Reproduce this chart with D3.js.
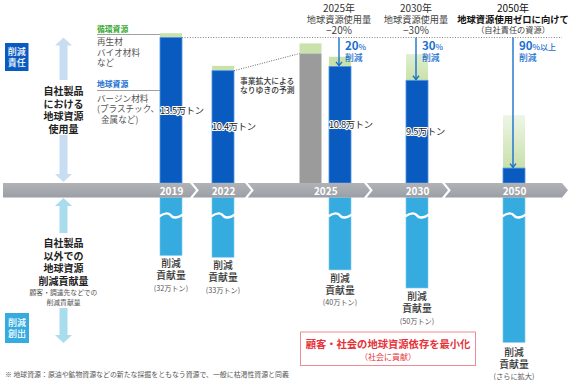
<!DOCTYPE html>
<html><head><meta charset="utf-8">
<script src="https://cdn.jsdelivr.net/npm/d3@7"></script>
<style>
html,body{margin:0;padding:0;background:#fff;}
svg{display:block;font-family:"Noto Sans CJK JP","Noto Sans",sans-serif;}
</style></head>
<body><svg id="c" width="574" height="381"></svg>
<script>
// ---------- data ----------
const years = ["2019","2022","2025","2030","2050"];
const virginUse = [13.5, 10.4, 10.8, 9.5, 1.3];          // 地球資源 (万トン)
const circularUse = [0.4, 0.45, 0.9, 2.45, 4.95];         // 循環資源 / 削減分
const useLabels = ["13.5万トン","10.4万トン","10.8万トン","9.5万トン",""];
const forecastYears = ["2025"];
const forecastVirgin = [12.0];
const forecastCircular = [0.95];
const contribution = [32, 33, 40, 50, 80];                // 削減貢献量 (万トン)
const contributionLabels = ["(32万トン)","(33万トン)","(40万トン)","(50万トン)","(さらに拡大)"];
const targetYears = ["2025","2030","2050"];
const targetHead1 = ["2025年","2030年","2050年"];
const targetHead2 = ["地球資源使用量","地球資源使用量","地球資源使用ゼロに向けて"];
const targetHead3 = ["−20%","−30%","（自社責任の資源）"];
const targetPct = ["20","30","90"];
const targetSuffix = ["%","%","%以上"];

// ---------- scales ----------
const svg = d3.select("#c");
const x = d3.scaleOrdinal().domain(years).range([171,223,340,417,514]);
const forecastOffset = -29.5;
const bw = 22;
const yU = d3.scaleLinear().domain([0,13.5]).range([182,37.5]);
const yL = d3.scaleLinear().domain([0,50]).range([197.5,288]);

const BLUE="#0a5bbf", LBLUE="#35abe0", GREEN="#c9e2ab", GRAY="#9b9b9b";
const defs = svg.append("defs");
const g1 = defs.append("linearGradient").attr("id","g2050").attr("x1",0).attr("y1",0).attr("x2",0).attr("y2",1);
g1.append("stop").attr("offset","0%").attr("stop-color","#eef6e6");
g1.append("stop").attr("offset","100%").attr("stop-color","#c8e0ab");
const g2 = defs.append("linearGradient").attr("id","g2030").attr("x1",0).attr("y1",0).attr("x2",0).attr("y2",1);
g2.append("stop").attr("offset","0%").attr("stop-color","#e0eed1");
g2.append("stop").attr("offset","100%").attr("stop-color","#c9e2ab");
const tl = defs.append("linearGradient").attr("id","tl").attr("x1",0).attr("y1",0).attr("x2",0).attr("y2",1);
tl.append("stop").attr("offset","0%").attr("stop-color","#b1b3b8");
tl.append("stop").attr("offset","100%").attr("stop-color","#9b9ea4");
const mk = defs.append("marker").attr("id","ah").attr("viewBox","0 0 10 10").attr("refX",5).attr("refY",9)
  .attr("markerWidth",7).attr("markerHeight",7).attr("orient","auto-start-reverse").attr("markerUnits","userSpaceOnUse");

// ---------- upper bars ----------
const data = years.map((y,i)=>({y,i,v:virginUse[i],c:circularUse[i]}));
const up = svg.append("g");
data.forEach(d=>{
  const x0 = x(d.y)-bw/2;
  const fill = d.y==="2050" ? "url(#g2050)" : d.y==="2030" ? "url(#g2030)" : GREEN;
  up.append("rect").attr("x",x0).attr("width",bw).attr("y",yU(d.v+d.c)).attr("height",yU(d.v)-yU(d.v+d.c)).attr("fill",fill);
  up.append("rect").attr("x",x0).attr("width",bw).attr("y",yU(d.v)).attr("height",yU(0)-yU(d.v)+1)
    .attr("fill",BLUE).attr("stroke","#4f93de").attr("stroke-width",0.8);
});
forecastYears.forEach((y,i)=>{
  const x0 = x(y)+forecastOffset-bw/2;
  up.append("rect").attr("x",x0).attr("width",bw).attr("y",yU(forecastVirgin[i]+forecastCircular[i]))
    .attr("height",yU(forecastVirgin[i])-yU(forecastVirgin[i]+forecastCircular[i])).attr("fill",GREEN);
  up.append("rect").attr("x",x0).attr("width",bw).attr("y",yU(forecastVirgin[i])).attr("height",yU(0)-yU(forecastVirgin[i])+1).attr("fill",GRAY);
});

// dotted lines
svg.append("line").attr("x1",x("2019")+bw/2).attr("x2",562).attr("y1",yU(virginUse[0])).attr("y2",yU(virginUse[0]))
  .attr("stroke","#777").attr("stroke-width",0.9).attr("stroke-dasharray","1,1.6");
svg.append("line").attr("x1",x("2022")+bw/2).attr("y1",yU(virginUse[1]))
  .attr("x2",x("2025")+forecastOffset-bw/2).attr("y2",yU(forecastVirgin[0]))
  .attr("stroke","#555").attr("stroke-width",0.9).attr("stroke-dasharray","1,1.4");

// value labels
data.forEach(d=>{
  if(!useLabels[d.i]) return;
  const mid=(yU(d.v)+yU(0))/2;
  svg.append("text").attr("x",x(d.y)-bw/2).attr("y",mid+4).text(useLabels[d.i])
    .attr("font-size",9.3).attr("fill","#1a1a1a").attr("stroke","#fff").attr("stroke-width",2.2)
    .attr("paint-order","stroke").attr("stroke-linejoin","round").attr("letter-spacing",-0.3);
});

// forecast note
svg.append("text").attr("x",240).attr("y",83.5).text("事業拡大による").attr("font-size",7.8).attr("fill","#333").attr("font-weight",500);
svg.append("text").attr("x",240).attr("y",93).text("なりゆきの予測").attr("font-size",7.8).attr("fill","#333").attr("font-weight",500);

// legend
const lg = svg.append("g");
lg.append("text").attr("x",97).attr("y",31.5).text("循環資源").attr("font-size",7.8).attr("font-weight",700).attr("fill","#3aaa35");
lg.append("line").attr("x1",97).attr("x2",160).attr("y1",34.5).attr("y2",34.5).attr("stroke","#888").attr("stroke-width",0.8);
["再生材","バイオ材料","など"].forEach((t,i)=>lg.append("text").attr("x",97).attr("y",45+i*10.5).text(t).attr("font-size",8.6).attr("fill","#555"));
lg.append("text").attr("x",97).attr("y",87).text("地球資源").attr("font-size",7.8).attr("font-weight",700).attr("fill","#1a6fd0");
lg.append("line").attr("x1",97).attr("x2",160).attr("y1",90.5).attr("y2",90.5).attr("stroke","#888").attr("stroke-width",0.8);
["バージン材料","(プラスチック、"," 金属など)"].forEach((t,i)=>lg.append("text").attr("x",i==2?101:97).attr("y",101.5+i*10.5).text(t).attr("font-size",8.6).attr("fill","#555"));

// ---------- targets ----------
targetYears.forEach((y,i)=>{
  const cx = x(y);
  const d = data.find(e=>e.y===y);
  const bold = y==="2050";
  svg.append("text").attr("x",cx-1).attr("y",11.5).attr("text-anchor","middle").text(targetHead1[i]).attr("font-size",10).attr("fill",bold?"#111":"#333");
  svg.append("text").attr("x",cx-1).attr("y",22.5).attr("text-anchor","middle").text(targetHead2[i])
    .attr("font-size",bold?9.3:9.2).attr("font-weight",bold?700:400).attr("fill",bold?"#111":"#444");
  svg.append("text").attr("x",cx-1).attr("y",bold?33:34).attr("text-anchor","middle").text(targetHead3[i])
    .attr("font-size",bold?8.2:10).attr("fill","#444");
  // arrow
  const ax = cx-1, yt = yU(d.v);
  svg.append("line").attr("x1",ax).attr("x2",ax).attr("y1",37.5).attr("y2",yt-0.5).attr("stroke","#1a6fd0").attr("stroke-width",1.4);
  svg.append("path").attr("d",`M${ax-3},${yt-4.5} L${ax},${yt-0.8} L${ax+3},${yt-4.5}`).attr("fill","none").attr("stroke","#1a6fd0").attr("stroke-width",1.4);
  const t = svg.append("text").attr("x",ax+6).attr("y",49.5).attr("fill","#1a6fd0");
  t.append("tspan").text(targetPct[i]).attr("font-size",11.5).attr("font-weight",700);
  t.append("tspan").text(targetSuffix[i]).attr("font-size",8).attr("font-weight",500);
  svg.append("text").attr("x",ax+6).attr("y",61).text("削減").attr("font-size",8.8).attr("font-weight",500).attr("fill","#1a6fd0");
});

// ---------- lower bars ----------
const low = svg.append("g");
years.forEach((y,i)=>{
  const x0 = x(y)-bw/2, yb = yL(contribution[i]);
  low.append("rect").attr("x",x0).attr("width",bw).attr("y",yL(0)).attr("height",yb-yL(0)).attr("fill",LBLUE)
    .attr("stroke","#7cc8ec").attr("stroke-width",0.6);
  low.append("path").attr("d",`M${x0-1},${216.5} C${x0+5},${212.5} ${x0+9},${212.5} ${x0+11},${215.5} S${x0+18},${218} ${x0+bw+1},${214.5}`)
    .attr("fill","none").attr("stroke","#fff").attr("stroke-width",2.4);
  const off = y==="2050"?13.5:12;
  low.append("text").attr("x",x(y)).attr("y",yb+off).attr("text-anchor","middle").text("削減").attr("font-size",9.8).attr("font-weight",500).attr("fill","#333");
  low.append("text").attr("x",x(y)).attr("y",yb+off+12).attr("text-anchor","middle").text("貢献量").attr("font-size",9.8).attr("font-weight",500).attr("fill","#333");
  low.append("text").attr("x",x(y)).attr("y",yb+off+23.5).attr("text-anchor","middle").text(contributionLabels[i]).attr("font-size",7.2).attr("fill","#555");
});

// ---------- timeline ----------
const tb=183, bb=197.5, mid=(tb+bb)/2, dep=6;
const shoulders=[190,245,364,442,562];
let start=3;
shoulders.forEach((s,i)=>{
  const pts = i===0 ? [[start,tb],[s,tb],[s+dep,mid],[s,bb],[start,bb]]
    : [[start,tb],[s,tb],[s+dep,mid],[s,bb],[start,bb],[start+dep,mid]];
  svg.append("polygon").attr("points",pts.map(p=>p.join(",")).join(" ")).attr("fill","url(#tl)");
  start = s+2.8;
});
const yearLabelX = years.map(y=> y==="2025" ? (x(y)+x(y)+forecastOffset)/2 : x(y));
years.forEach((y,i)=>svg.append("text").attr("x",yearLabelX[i]+0.5).attr("y",194.5).attr("text-anchor","middle").text(y)
  .attr("font-size",10).attr("font-weight",700).attr("fill","#fff"));

// ---------- left column ----------
function vArrow(cx,y1,y2,gapA,gapB,col){
  const g=svg.append("g").attr("fill",col);
  g.append("path").attr("d",`M${cx},${y1} L${cx+8.5},${y1+8} L${cx+4},${y1+8} L${cx+4},${gapA} L${cx-4},${gapA} L${cx-4},${y1+8} L${cx-8.5},${y1+8} Z`);
  g.append("path").attr("d",`M${cx},${y2} L${cx+8.5},${y2-8} L${cx+4},${y2-8} L${cx+4},${gapB} L${cx-4},${gapB} L${cx-4},${y2-8} L${cx-8.5},${y2-8} Z`);
}
vArrow(63.5,37.5,182,80,135,"#c8ddf1");
vArrow(63.5,198,343,233,308,"#a9dced");
["自社製品","における","地球資源","使用量"].forEach((t,i)=>svg.append("text").attr("x",63.5).attr("y",95+i*12.6).attr("text-anchor","middle")
  .text(t).attr("font-size",10).attr("font-weight",700).attr("fill","#222"));
["自社製品","以外での","地球資源","削減貢献量"].forEach((t,i)=>svg.append("text").attr("x",63.5).attr("y",247+i*12.6).attr("text-anchor","middle")
  .text(t).attr("font-size",10).attr("font-weight",700).attr("fill","#222"));
["顧客・調達先などでの","削減貢献量"].forEach((t,i)=>svg.append("text").attr("x",63.5).attr("y",295+i*10).attr("text-anchor","middle")
  .text(t).attr("font-size",6.8).attr("fill","#555"));
svg.append("rect").attr("x",5).attr("y",43).attr("width",23.5).attr("height",28).attr("fill",BLUE);
["削減","責任"].forEach((t,i)=>svg.append("text").attr("x",16.8).attr("y",55+i*11).attr("text-anchor","middle").text(t).attr("font-size",9).attr("fill","#fff").attr("font-weight",500));
svg.append("rect").attr("x",5).attr("y",313).attr("width",24).attr("height",30).attr("fill",LBLUE);
["削減","創出"].forEach((t,i)=>svg.append("text").attr("x",17).attr("y",326+i*11).attr("text-anchor","middle").text(t).attr("font-size",9).attr("fill","#fff").attr("font-weight",500));

// ---------- red box ----------
svg.append("rect").attr("x",300.5).attr("y",332).attr("width",175).attr("height",33.5).attr("fill","#fff").attr("stroke","#ef8c93").attr("stroke-width",1);
svg.append("text").attr("x",388).attr("y",348).attr("text-anchor","middle").text("顧客・社会の地球資源依存を最小化").attr("font-size",10.3).attr("font-weight",700).attr("fill","#e5333a");
svg.append("text").attr("x",388).attr("y",359.5).attr("text-anchor","middle").text("（社会に貢献）").attr("font-size",8).attr("fill","#e5333a");

// ---------- footnote ----------
svg.append("text").attr("x",5).attr("y",377).text("※ 地球資源：原油や鉱物資源などの新たな採掘をともなう資源で、一般に枯渇性資源と同義").attr("font-size",6.9).attr("fill","#555");
</script></body></html>
